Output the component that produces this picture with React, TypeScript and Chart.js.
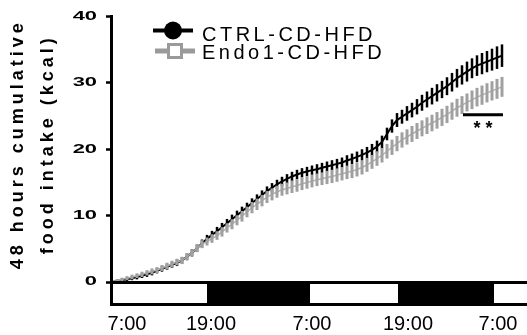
import React, { useEffect, useRef } from 'react';
import { Chart, registerables, LinearScale } from 'chart.js';

Chart.register(...registerables);

// ---------- data ----------
const seriesNames = ['CTRL-CD-HFD', 'Endo1-CD-HFD'];

const ctrlMean = [
  0.0, 0.15, 0.3, 0.42, 0.57, 0.75, 0.95, 1.17, 1.4, 1.7,
  2.0, 2.3, 2.6, 2.9, 3.25, 3.8, 4.4, 5.1, 5.8, 6.5,
  7.1, 7.65, 8.25, 8.85, 9.45, 10.05, 10.65, 11.25, 11.9, 12.5,
  13.1, 13.7, 14.2, 14.7, 15.15, 15.55, 15.9, 16.2, 16.45, 16.65,
  16.85, 17.0, 17.2, 17.4, 17.6, 17.8, 18.0, 18.3, 18.55, 18.85,
  19.15, 19.5, 19.9, 20.4, 21.1, 22.3, 23.5, 24.4, 24.9, 25.4,
  25.9, 26.4, 27.0, 27.5, 28.0, 28.5, 29.0, 29.5, 30.1, 30.7,
  31.2, 31.7, 32.2, 32.6, 32.9, 33.2, 33.5, 33.8, 34.1,
];
const ctrlSem = [
  0.1, 0.2, 0.25, 0.3, 0.3, 0.35, 0.35, 0.4, 0.4, 0.4,
  0.45, 0.45, 0.45, 0.5, 0.5, 0.5, 0.55, 0.55, 0.6, 0.6,
  0.6, 0.65, 0.65, 0.65, 0.7, 0.7, 0.7, 0.7, 0.7, 0.7,
  0.7, 0.7, 0.7, 0.7, 0.7, 0.7, 0.7, 0.7, 0.7, 0.7,
  0.7, 0.75, 0.75, 0.75, 0.75, 0.75, 0.75, 0.8, 0.8, 0.8,
  0.85, 0.85, 0.9, 0.9, 0.95, 0.95, 1.0, 1.05, 1.05, 1.1,
  1.1, 1.15, 1.2, 1.2, 1.25, 1.3, 1.3, 1.35, 1.4, 1.4,
  1.45, 1.5, 1.5, 1.55, 1.6, 1.6, 1.65, 1.7, 1.7,
];
const endoMean = [
  0.0, 0.2, 0.4, 0.58, 0.76, 0.95, 1.15, 1.38, 1.6, 1.8,
  2.1, 2.4, 2.7, 3.0, 3.25, 3.8, 4.4, 5.1, 5.7, 6.1,
  6.55, 7.0, 7.55, 8.15, 8.7, 9.3, 9.9, 10.55, 11.2, 11.7,
  12.25, 12.8, 13.2, 13.6, 13.9, 14.1, 14.35, 14.55, 14.8, 15.0,
  15.2, 15.4, 15.55, 15.75, 15.9, 16.1, 16.3, 16.5, 16.7, 16.95,
  17.25, 17.65, 18.1, 18.6, 19.1, 19.7, 20.3, 20.85, 21.4, 21.85,
  22.3, 22.75, 23.15, 23.55, 23.95, 24.35, 24.8, 25.25, 25.75, 26.25,
  26.65, 27.05, 27.45, 27.85, 28.15, 28.5, 28.8, 29.1, 29.4,
];
const endoSem = [
  0.1, 0.2, 0.25, 0.3, 0.35, 0.35, 0.4, 0.4, 0.45, 0.45,
  0.45, 0.5, 0.5, 0.5, 0.55, 0.55, 0.55, 0.6, 0.6, 0.6,
  0.65, 0.65, 0.7, 0.7, 0.75, 0.75, 0.8, 0.8, 0.85, 0.85,
  0.85, 0.9, 0.9, 0.9, 0.9, 0.9, 0.95, 0.95, 0.95, 0.95,
  0.95, 0.95, 0.95, 1.0, 1.0, 1.0, 1.0, 1.0, 1.05, 1.05,
  1.05, 1.05, 1.05, 1.1, 1.1, 1.1, 1.15, 1.15, 1.15, 1.15,
  1.2, 1.2, 1.2, 1.25, 1.25, 1.25, 1.3, 1.3, 1.3, 1.35,
  1.35, 1.35, 1.4, 1.4, 1.45, 1.45, 1.45, 1.5, 1.5,
];

// x axis is in sample-index units (one sample per measurement)
const xTickLabels = ['7:00', '19:00', '7:00', '19:00', '7:00'];
const xTickValues = [3.0, 19.8, 40.0, 59.2, 77.2];
const lightDarkEdges = [-0.2, 19.0, 39.6, 57.2, 76.4, 83.6];
const lightDarkPhases = ['light', 'dark', 'light', 'dark', 'light'];
const yTickValues = [0, 10, 20, 30, 40];
const yTitleLines = ['48 hours cumulative', 'food intake (kcal)'];
const sigFrom = 70.2;
const sigTo = 78.2;
const sigValue = 25.2;
const sigLabel = '**';

// ---------- style ----------
const FONT = "'Liberation Sans', Arial, sans-serif";
const LABEL_STRETCH = 1.75;
const TITLE_SHIFT = -5;
const CTRL_COLOR = '#000000';
const ENDO_COLOR = '#a0a0a0';
const ENDO_LINE = '#b0b0b0';

class StretchedLinearScale extends LinearScale {
  static id = 'stretchedLinear';
  static defaults = LinearScale.defaults;
  drawLabels(chartArea: any) {
    const self: any = this;
    const ctx = self.ctx as CanvasRenderingContext2D;
    const o: any = self.options;
    const anchor = self.right - o.grid.tickLength - o.ticks.padding;
    ctx.save();
    ctx.translate(anchor, 0);
    ctx.scale(LABEL_STRETCH, 1);
    ctx.translate(-anchor, 0);
    super.drawLabels(chartArea);
    ctx.restore();
  }
  drawTitle() {
    const self: any = this;
    const ctx = self.ctx as CanvasRenderingContext2D;
    ctx.save();
    (ctx as any).letterSpacing = '4px';
    ctx.translate(0, TITLE_SHIFT);
    super.drawTitle();
    ctx.restore();
  }
}
Chart.register(StretchedLinearScale as any);

const errorBarPlugin = {
  id: 'errorBars',
  afterDatasetDraw(chart: any, args: any) {
    const i = args.index;
    const sems = i === 0 ? ctrlSem : endoSem;
    const means = i === 0 ? ctrlMean : endoMean;
    const color = i === 0 ? CTRL_COLOR : ENDO_COLOR;
    const width = i === 0 ? 2.5 : 3;
    const meta = args.meta;
    const yScale = chart.scales.y;
    const ctx = chart.ctx as CanvasRenderingContext2D;
    ctx.save();
    ctx.strokeStyle = color;
    ctx.lineWidth = width;
    ctx.lineCap = 'butt';
    meta.data.forEach((pt: any, k: number) => {
      const top = yScale.getPixelForValue(means[k] + sems[k]);
      const bot = yScale.getPixelForValue(Math.max(0, means[k] - sems[k]));
      ctx.beginPath();
      ctx.moveTo(pt.x, top);
      ctx.lineTo(pt.x, bot);
      ctx.stroke();
    });
    ctx.restore();
  },
};

const decorPlugin = {
  id: 'decor',
  afterDraw(chart: any) {
    const ctx = chart.ctx as CanvasRenderingContext2D;
    const area = chart.chartArea;
    const xs = chart.scales.x;
    const ys = chart.scales.y;

    // light/dark bar below the x axis
    const barTop = area.bottom + 0.5;
    const barBottom = area.bottom + 22.5;
    ctx.save();
    const x0 = xs.getPixelForValue(lightDarkEdges[0]) + 0.5;
    const x1 = xs.getPixelForValue(lightDarkEdges[lightDarkEdges.length - 1]);
    ctx.fillStyle = '#ffffff';
    ctx.fillRect(x0, barTop, x1 - x0, barBottom - barTop);
    ctx.fillStyle = '#000000';
    lightDarkPhases.forEach((ph, k) => {
      if (ph !== 'dark') return;
      const a = xs.getPixelForValue(lightDarkEdges[k]);
      const b = xs.getPixelForValue(lightDarkEdges[k + 1]);
      ctx.fillRect(a, barTop, b - a, barBottom - barTop);
    });
    ctx.strokeStyle = '#000000';
    ctx.lineWidth = 3;
    ctx.strokeRect(x0, barTop, x1 - x0, barBottom - barTop);
    ctx.restore();

    // significance bar
    ctx.save();
    const sy = ys.getPixelForValue(sigValue);
    ctx.strokeStyle = '#000';
    ctx.lineWidth = 3;
    ctx.beginPath();
    ctx.moveTo(xs.getPixelForValue(sigFrom), sy);
    ctx.lineTo(xs.getPixelForValue(sigTo), sy);
    ctx.stroke();
    (ctx as any).letterSpacing = '5px';
    ctx.font = `bold 18px ${FONT}`;
    ctx.fillStyle = '#000';
    ctx.textAlign = 'center';
    ctx.textBaseline = 'top';
    const cx = (xs.getPixelForValue(sigFrom) + xs.getPixelForValue(sigTo)) / 2 + 2.5;
    ctx.fillText(sigLabel, cx, sy + 5);
    ctx.restore();

    // legend
    ctx.save();
    const lx = area.left + 42;
    const rows = [area.top + 14, area.top + 34.5];
    // row 1: black line + filled circle
    ctx.strokeStyle = CTRL_COLOR;
    ctx.lineWidth = 4;
    ctx.beginPath();
    ctx.moveTo(lx, rows[0]);
    ctx.lineTo(lx + 40, rows[0]);
    ctx.stroke();
    ctx.fillStyle = CTRL_COLOR;
    ctx.beginPath();
    ctx.arc(lx + 20, rows[0], 9, 0, Math.PI * 2);
    ctx.fill();
    // row 2: gray line + open square
    ctx.strokeStyle = '#9a9a9a';
    ctx.lineWidth = 5;
    ctx.beginPath();
    ctx.moveTo(lx + 2, rows[1]);
    ctx.lineTo(lx + 42, rows[1]);
    ctx.stroke();
    ctx.fillStyle = '#ffffff';
    ctx.fillRect(lx + 15.5, rows[1] - 6.5, 13, 13);
    ctx.lineWidth = 3;
    ctx.strokeRect(lx + 15.5, rows[1] - 6.5, 13, 13);
    // texts
    (ctx as any).letterSpacing = '3.5px';
    ctx.font = `20px ${FONT}`;
    ctx.fillStyle = '#000';
    ctx.textAlign = 'left';
    ctx.textBaseline = 'middle';
    ctx.fillText(seriesNames[0], lx + 49, rows[0] + 5);
    ctx.fillText(seriesNames[1], lx + 49, rows[1] + 2);
    ctx.restore();
  },
};

export default function App() {
  const ref = useRef<HTMLCanvasElement>(null);
  useEffect(() => {
    const canvas = ref.current;
    if (!canvas) return;
    const chart = new Chart(canvas, {
      type: 'line',
      data: {
        datasets: [
          {
            label: seriesNames[0],
            data: ctrlMean.map((v, i) => ({ x: i, y: v })),
            borderColor: CTRL_COLOR,
            borderWidth: 2,
            pointRadius: 0,
            tension: 0,
            order: 1,
          },
          {
            label: seriesNames[1],
            data: endoMean.map((v, i) => ({ x: i, y: v })),
            borderColor: ENDO_LINE,
            borderWidth: 1.5,
            pointRadius: 0,
            tension: 0,
            order: 0,
          },
        ],
      },
      options: {
        responsive: false,
        animation: false,
        devicePixelRatio: 1,
        layout: { padding: { top: 14, left: 0, right: 0, bottom: 0 } },
        plugins: {
          legend: { display: false },
          tooltip: { enabled: false },
        },
        scales: {
          x: {
            type: 'linear',
            min: lightDarkEdges[0],
            max: 83.0,
            grid: { display: false },
            border: { display: false },
            afterBuildTicks: (scale: any) => {
              scale.ticks = xTickValues.map((v) => ({ value: v }));
            },
            afterFit: (scale: any) => {
              scale.height = 53;
              scale.paddingLeft = 0;
              scale.paddingRight = 0;
            },
            ticks: {
              autoSkip: false,
              maxRotation: 0,
              minRotation: 0,
              padding: 22,
              color: '#000',
              font: { family: FONT, size: 20 },
              callback: (_v: any, idx: number) => xTickLabels[idx],
            },
          },
          y: {
            type: 'stretchedLinear' as any,
            min: 0,
            max: 40,
            afterBuildTicks: (scale: any) => {
              scale.ticks = yTickValues.map((v) => ({ value: v }));
            },
            afterFit: (scale: any) => {
              scale.width = 111;
            },
            grid: {
              display: true,
              drawOnChartArea: false,
              drawTicks: true,
              tickLength: 5,
              tickWidth: 2.5,
              tickColor: '#000',
            },
            border: { display: true, width: 3, color: '#000' },
            ticks: {
              padding: 9,
              color: '#000',
              font: { family: FONT, size: 12.5, weight: 'bold' },
            },
            title: {
              display: true,
              text: yTitleLines,
              color: '#000',
              padding: { top: 3, bottom: 0 },
              font: { family: FONT, size: 18, weight: 'bold', lineHeight: '30px' },
            },
          } as any,
        },
      } as any,
      plugins: [errorBarPlugin, decorPlugin],
    });
    return () => chart.destroy();
  }, []);
  return (
    <div style={{ position: 'absolute', left: 0, top: 0, width: 527, height: 335, background: '#fff' }}>
      <canvas ref={ref} width={527} height={335} style={{ display: 'block', width: 527, height: 335 }} />
    </div>
  );
}
